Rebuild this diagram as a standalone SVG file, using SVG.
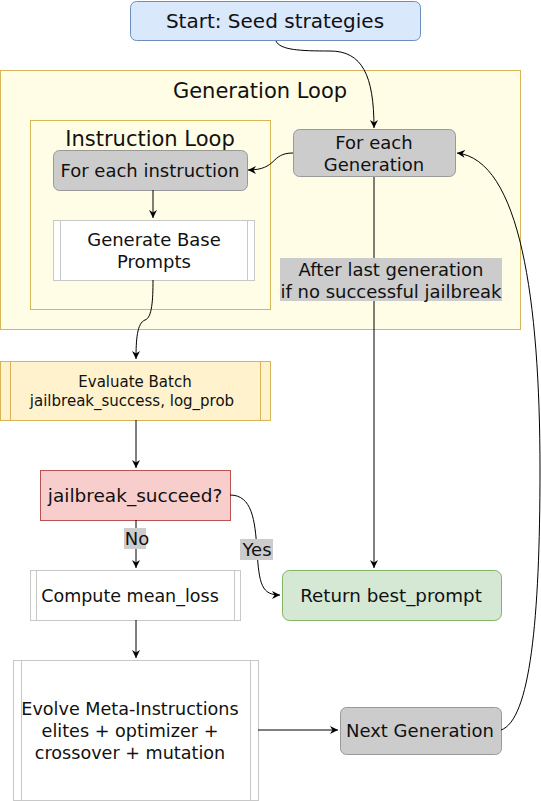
<svg xmlns="http://www.w3.org/2000/svg" width="541" height="801" viewBox="0 0 541 801">
<style>
text{font-family:"DejaVu Sans","Verdana",sans-serif;fill:#111;text-anchor:middle}
.gray{fill:#cccccc;stroke:#999999;stroke-width:1}
.proc{fill:#ffffff;stroke:#c8c8c8;stroke-width:1}
.edge{fill:none;stroke:#000;stroke-width:1;marker-end:url(#arr)}
.lbl{fill:#cccccc;stroke:none}
</style>
<defs>
<marker id="arr" markerWidth="10" markerHeight="10" refX="8" refY="5" orient="auto" markerUnits="userSpaceOnUse">
<path d="M0,1 L8,5 L0,9 L2.5,5 Z" fill="#000"/>
</marker>
</defs>
<rect width="541" height="801" fill="#ffffff"/>
<g id="generation-loop">
<rect x="0.5" y="70.5" width="520" height="259" fill="#fffde6" stroke="#d6b656"/>
<text x="260" y="98" font-size="21">Generation Loop</text>
</g>
<g id="instruction-loop">
<rect x="30.5" y="120.5" width="240" height="189" fill="#fffde6" stroke="#d6b656"/>
<text x="150" y="146" font-size="21">Instruction Loop</text>
</g>
<g id="start">
<rect x="130.5" y="1.5" width="290" height="39" rx="6" fill="#dae8fc" stroke="#6c8ebf"/>
<text x="275" y="28" font-size="20">Start: Seed strategies</text>
</g>
<g id="for-each-instruction">
<rect x="53.5" y="150.5" width="194" height="40" rx="6" class="gray"/>
<text x="150" y="177" font-size="18">For each instruction</text>
</g>
<g id="generate-base">
<rect x="53.5" y="220.5" width="201" height="60" class="proc"/>
<line x1="60.5" y1="220.5" x2="60.5" y2="280.5" stroke="#c8c8c8"/>
<line x1="247.5" y1="220.5" x2="247.5" y2="280.5" stroke="#c8c8c8"/>
<text x="154" y="246" font-size="18">Generate Base</text>
<text x="154" y="268" font-size="18">Prompts</text>
</g>
<g id="for-each-generation">
<rect x="293.5" y="129.5" width="162" height="47" rx="6" class="gray"/>
<text x="374" y="149" font-size="18">For each</text>
<text x="374" y="171" font-size="18">Generation</text>
</g>
<g id="evaluate-batch">
<rect x="0.5" y="361.5" width="270" height="59" fill="#fff2cc" stroke="#d6b656"/>
<line x1="10.5" y1="361.5" x2="10.5" y2="420.5" stroke="#d6b656"/>
<line x1="260.5" y1="361.5" x2="260.5" y2="420.5" stroke="#d6b656"/>
<text x="135" y="387" font-size="15">Evaluate Batch</text>
<text x="132" y="406" font-size="15">jailbreak_success, log_prob</text>
</g>
<g id="jailbreak-succeed">
<rect x="40.5" y="470.5" width="190" height="50" fill="#f8cecc" stroke="#b85450"/>
<text x="135" y="502" font-size="18.5">jailbreak_succeed?</text>
</g>
<g id="compute-mean-loss">
<rect x="30.5" y="570.5" width="210" height="50" class="proc"/>
<line x1="36.5" y1="570.5" x2="36.5" y2="620.5" stroke="#c8c8c8"/>
<line x1="234.5" y1="570.5" x2="234.5" y2="620.5" stroke="#c8c8c8"/>
<text x="130" y="602" font-size="17.5">Compute mean_loss</text>
</g>
<g id="return-best">
<rect x="282.5" y="570.5" width="219" height="50" rx="7" fill="#d5e8d4" stroke="#82b366"/>
<text x="391" y="602" font-size="18.3">Return best_prompt</text>
</g>
<g id="evolve">
<rect x="13.5" y="660.5" width="245" height="140" class="proc"/>
<line x1="21.5" y1="660.5" x2="21.5" y2="800.5" stroke="#c8c8c8"/>
<line x1="250.5" y1="660.5" x2="250.5" y2="800.5" stroke="#c8c8c8"/>
<text x="130" y="715" font-size="17.6">Evolve Meta-Instructions</text>
<text x="130" y="737" font-size="17.6">elites + optimizer +</text>
<text x="130" y="759" font-size="17.6">crossover + mutation</text>
</g>
<g id="next-generation">
<rect x="340.5" y="707.5" width="161" height="47" rx="6" class="gray"/>
<text x="420" y="737" font-size="18">Next Generation</text>
</g>
<g id="connectors">
<path class="edge" d="M276,41 C280,50 300,51 330,51 C362,51 374,75 374,128"/>
<path class="edge" d="M293,153 C270,153 278,170 248,170"/>
<path class="edge" d="M153,190 L153,218"/>
<path class="edge" d="M153,280 C153,300 152,318 145,320 C137,323 136,340 136,359"/>
<path class="edge" d="M136,420 L136,468"/>
<path class="edge" d="M136,520 L136,568"/>
<path class="edge" d="M230,495 C252,495 255,520 257,550 C259,585 262,595 280,595"/>
<path class="edge" d="M374,177 L374,568"/>
<path class="edge" d="M136,620 L136,658"/>
<path class="edge" d="M258,730 L338,730"/>
<path class="edge" d="M501,730 C530,720 540,620 540,470 C540,300 520,160 457,153"/>
<rect class="lbl" x="280" y="258" width="222" height="43"/>
<text x="391" y="276" font-size="18">After last generation</text>
<text x="391" y="298" font-size="18">if no successful jailbreak</text>
<rect class="lbl" x="124" y="528" width="22" height="21"/>
<text x="137" y="545" font-size="18">No</text>
<rect class="lbl" x="240" y="539" width="33" height="21"/>
<text x="257" y="556" font-size="18">Yes</text>
</g>
</svg>
